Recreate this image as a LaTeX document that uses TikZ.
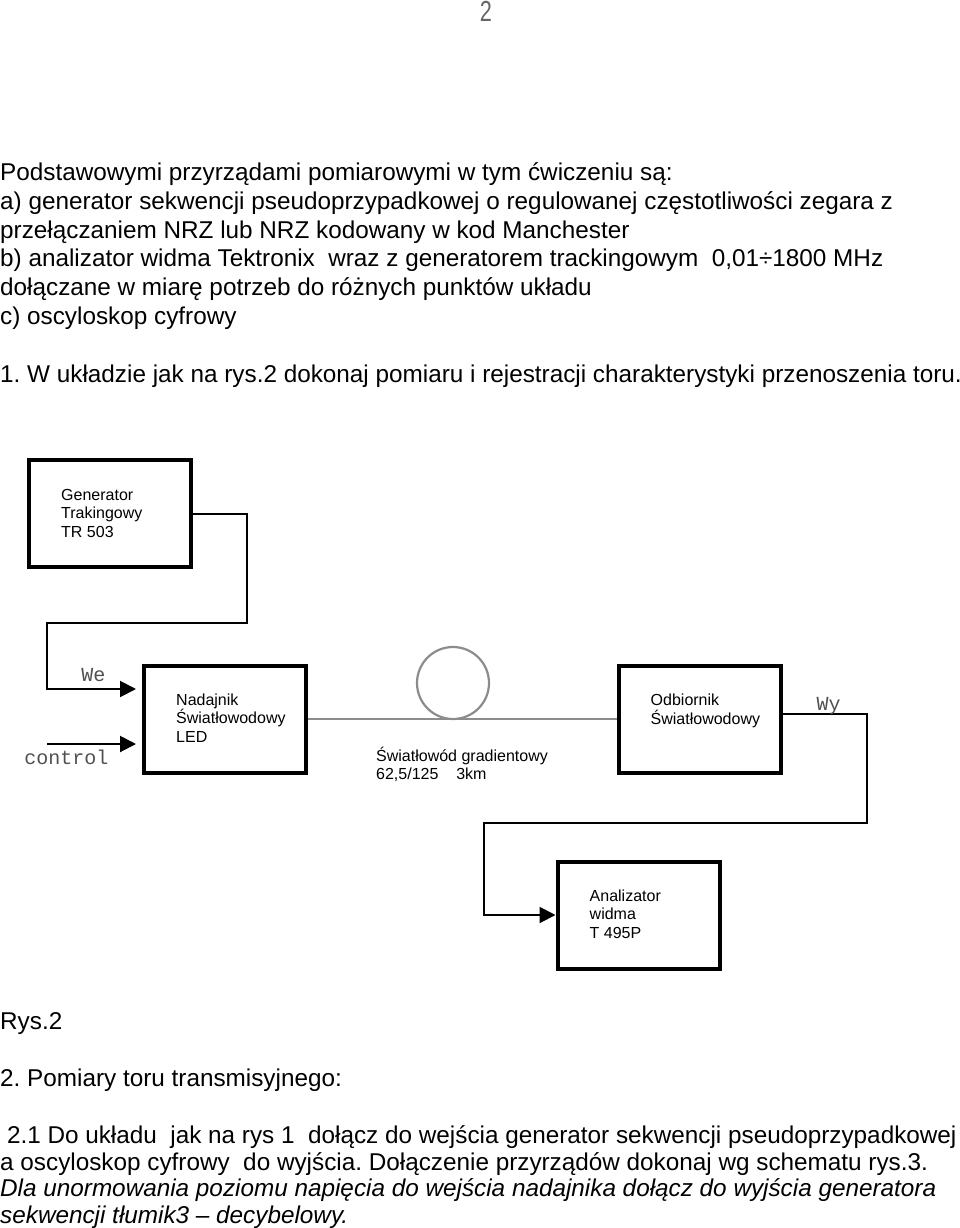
\documentclass[tikz,border=0pt]{standalone}
\usepackage{fontspec}
\setmainfont{Liberation Sans}
\setmonofont{Liberation Mono}
\newfontfamily\pagenofont[FakeStretch=0.75]{Liberation Sans}
\usepackage{tikz}
\usetikzlibrary{positioning,arrows.meta}
\definecolor{fibergray}{HTML}{8C8C8C}
\definecolor{portgray}{HTML}{505050}
\newcommand{\bodytxt}{\fontsize{24.3}{28.8}\selectfont}
\newcommand{\boxtxt}{\fontsize{16}{18.5}\selectfont}
\newcommand{\port}[1]{{\ttfamily\fontsize{20}{22}\selectfont #1}}
\frenchspacing

\begin{document}
\begin{tikzpicture}[x=1pt, y=1pt,
  body/.style={font=\bodytxt, anchor=base west, inner sep=0pt},
  box/.style={draw, line width=4pt, minimum width=162pt, minimum height=107pt, inner sep=0pt},
  txt/.style={font=\boxtxt, align=left, inner sep=0pt},
  lab/.style={text=portgray, inner sep=0pt, anchor=base},
  flow/.style={-{Triangle[length=16pt, width=16pt]}, line width=2pt},
  fiber/.style={draw=fibergray, line width=2.2pt}]
  \useasboundingbox (0,0) rectangle (960,-1228);
  % page number
  \node[inner sep=0pt, anchor=base, text=black!60, font=\pagenofont\fontsize{29}{29}\selectfont] (pageno) at (486,-22) {2};
  % text above the figure
  \node[body] (t1) at (0,-180) {Podstawowymi przyrządami pomiarowymi w tym ćwiczeniu są:};
  \node[body] (t2) at (0,-209) {a) generator sekwencji pseudoprzypadkowej o regulowanej częstotliwości zegara z};
  \node[body] (t3) at (0,-238) {przełączaniem NRZ lub NRZ kodowany w kod Manchester};
  \node[body] (t4) at (0,-266.5) {b) analizator widma Tektronix\ \ wraz z generatorem trackingowym\ \ 0,01÷1800 MHz};
  \node[body] (t5) at (0,-295) {dołączane w miarę potrzeb do różnych punktów układu};
  \node[body] (t6) at (0,-324) {c) oscyloskop cyfrowy};
  \node[body] (t7) at (0,-382) {1. W układzie jak na rys.2 dokonaj pomiaru i rejestracji charakterystyki przenoszenia toru.};
  % boxes
  \node[box] (gen) at (110,-513.5) {};
  \node[txt, below right=31pt and 34pt of gen.north west] (gen-t) {Generator\\Trakingowy\\TR 503};
  \node[box] (nad) at (225,-719) {};
  \node[txt, below right=30pt and 34pt of nad.north west] (nad-t) {Nadajnik\\Światłowodowy\\LED};
  \node[box] (odb) at (699.5,-719.5) {};
  \node[txt, below right=30pt and 34pt of odb.north west] (odb-t) {Odbiornik\\Światłowodowy};
  \node[box] (ana) at (638.5,-915) {};
  \node[txt, below right=30pt and 34pt of ana.north west] (ana-t) {Analizator\\widma\\T 495P};
  % fibre with its loop
  \node[fiber, circle, minimum size=72pt, inner sep=0pt] (coil) at (453,-683) {};
  \draw[fiber] (nad.east) -- (nad.east -| odb.west);
  \node[txt, anchor=base west] (fib-t) at (376,-779.5) {Światłowód gradientowy\\62,5/125\ \ \ \ 3km};
  % connections
  \coordinate (ctl) at (47,-744);
  \draw[flow, shorten >=6pt] (gen.east) -- ++(54pt,0) |- ++(-200pt,-109pt) |- ([yshift=30pt]nad.west);
  \draw[flow, shorten >=6pt] (ctl) -- (ctl -| nad.west);
  \draw[flow] ([yshift=5.5pt]odb.east) -- ++(84pt,0) -- ++(0,-109pt) -| ([xshift=-72pt]ana.west) -- (ana.west);
  \node[lab] (we) at (93.5,-681) {\port{We}};
  \node[lab] (ctl-l) at (66.5,-764) {\port{control}};
  \node[lab] (wy) at (828.5,-710) {\port{Wy}};
  % text below the figure
  \node[body] (rys) at (0,-1029) {Rys.2};
  \node[body] (t8) at (0,-1086) {2. Pomiary toru transmisyjnego:};
  \node[body] (t9) at (6.8,-1143) {2.1 Do układu\ \ jak na rys 1\ \ dołącz do wejścia generator sekwencji pseudoprzypadkowej};
  \node[body] (t10) at (0,-1170) {a oscyloskop cyfrowy\ \ do wyjścia. Dołączenie przyrządów dokonaj wg schematu rys.3.};
  \node[body, font=\bodytxt\itshape] (t11) at (0,-1196) {Dla unormowania poziomu napięcia do wejścia nadajnika dołącz do wyjścia generatora};
  \node[body, font=\bodytxt\itshape] (t12) at (0,-1223) {sekwencji tłumik3 – decybelowy.};
\end{tikzpicture}
\end{document}
